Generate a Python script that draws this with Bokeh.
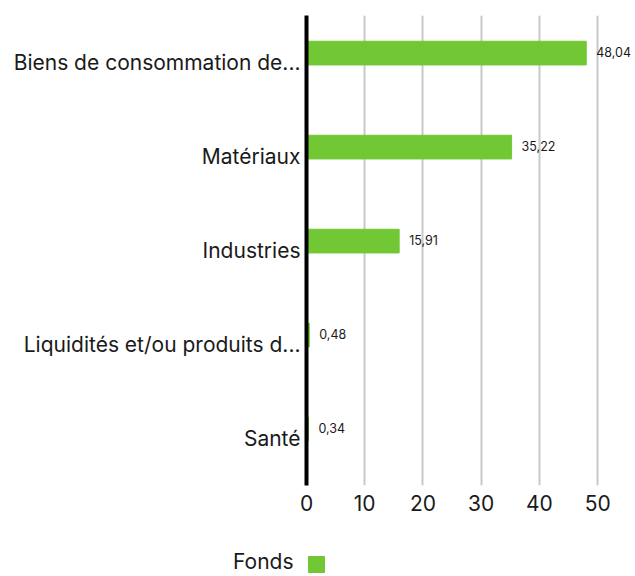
from bokeh.plotting import figure
from bokeh.layouts import column
from bokeh.models import (FactorRange, Range1d, ColumnDataSource, LabelSet, Legend,
                          LegendItem, FixedTicker)
from bokeh.core.properties import value
from bokeh.transform import dodge
from bokeh.embed import file_html
from bokeh.resources import INLINE

categories = ["Biens de consommation de...", "Matériaux", "Industries",
              "Liquidités et/ou produits d...", "Santé"]
fonds = [48.04, 35.22, 15.91, 0.48, 0.34]
value_labels = [f"{v:.2f}".replace(".", ",") for v in fonds]
x_ticks = [0, 10, 20, 30, 40, 50]
series_name = "Fonds"

FONT = "Inter"
GREEN = "#72c834"
TXT = "#1a1a1a"

src = ColumnDataSource(dict(cat=categories, val=fonds, lbl=value_labels))

p = figure(width=635, height=545, output_backend="svg", toolbar_location=None,
           y_range=FactorRange(*reversed(categories)), x_range=Range1d(0, 56.5),
           min_border_left=306, min_border_right=0, min_border_top=15,
           min_border_bottom=60)
p.outline_line_color = None
p.background_fill_color = "white"

bars = p.hbar(y=dodge("cat", 0.1, range=p.y_range), right="val", left=0,
              height=0.252, source=src, color=GREEN)

labels = LabelSet(x="val", y=dodge("cat", 0.11, range=p.y_range), text="lbl",
                  source=src, x_offset=10, text_baseline="middle",
                  text_font_size="12.5px", text_font=value(FONT), text_color=TXT)
p.add_layout(labels)

p.xgrid.grid_line_color = "#c8c8c8"
p.xgrid.grid_line_width = 2
p.ygrid.grid_line_color = None

p.xaxis.ticker = FixedTicker(ticks=x_ticks)
p.xaxis.axis_line_color = None
p.xaxis.major_tick_line_color = None
p.xaxis.minor_tick_line_color = None
p.xaxis.major_tick_out = 0
p.xaxis.major_tick_in = 0
p.xaxis.major_label_text_font_size = "21px"
p.xaxis.major_label_text_font = FONT
p.xaxis.major_label_text_color = TXT
p.xaxis.major_label_standoff = 9

p.yaxis.axis_line_color = "black"
p.yaxis.axis_line_width = 4
p.yaxis.major_tick_line_color = None
p.yaxis.minor_tick_line_color = None
p.yaxis.major_tick_out = 0
p.yaxis.major_tick_in = 0
p.yaxis.major_label_text_font_size = "21px"
p.yaxis.major_label_text_font = FONT
p.yaxis.major_label_text_color = TXT
p.yaxis.major_label_standoff = 6

# legend strip: series name as an axis label, followed by the series swatch
lsrc = ColumnDataSource(dict(series=[series_name], val=[fonds[0]]))
lf = figure(width=635, height=31, output_backend="svg", toolbar_location=None,
            x_range=Range1d(-1, -0.5), y_range=FactorRange(series_name),
            min_border_left=306, min_border_right=0, min_border_top=11,
            min_border_bottom=0)
lf.xaxis.visible = False
lf.grid.grid_line_color = None
lf.outline_line_color = None
lf.yaxis.axis_line_color = None
lf.yaxis.major_tick_line_color = None
lf.yaxis.minor_tick_line_color = None
lf.yaxis.major_tick_out = 0
lf.yaxis.major_tick_in = 0
lf.yaxis.major_label_text_font_size = "21px"
lf.yaxis.major_label_text_font = FONT
lf.yaxis.major_label_text_color = TXT
lf.yaxis.major_label_standoff = 13

swatch = lf.hbar(y="series", right="val", left=0, height=0.5, source=lsrc,
                 color=GREEN, visible=False)

legend = Legend(items=[LegendItem(label="\u200b", renderers=[swatch], index=0)],
                location="bottom_left", padding=0, margin=0, glyph_width=20,
                glyph_height=20, label_standoff=0, label_width=0, label_height=20,
                border_line_color=None, background_fill_alpha=0,
                label_text_font_size="21px", label_text_font=FONT,
                label_text_color=TXT)
lf.add_layout(legend, "center")

layout = column(p, lf, spacing=0)
open("out.html", "w").write(file_html(layout, INLINE))
